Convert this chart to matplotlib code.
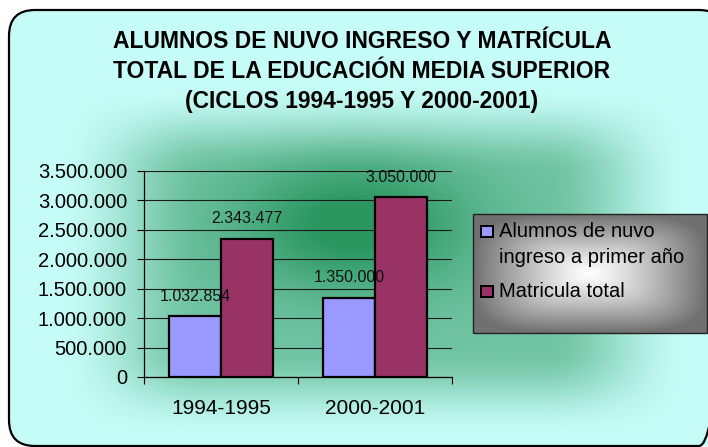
import numpy as np
import matplotlib
matplotlib.use("Agg")
import matplotlib.pyplot as plt
from matplotlib.patches import FancyBboxPatch, Rectangle
from matplotlib.ticker import FuncFormatter, FixedLocator

plt.rcParams['font.family'] = ['Liberation Sans', 'DejaVu Sans']

# data
ciclos = ["1994-1995", "2000-2001"]
nuevo_ingreso = [1032854, 1350000]
matricula_total = [2343477, 3050000]
series_names = ["Alumnos de nuvo\ningreso a primer año", "Matricula total"]
series_colors = ["#9999FF", "#993366"]
title_lines = ["ALUMNOS DE NUVO INGRESO Y MATRÍCULA",
               "TOTAL DE LA EDUCACIÓN MEDIA SUPERIOR",
               "(CICLOS 1994-1995 Y 2000-2001)"]

W, H = 708, 447
fig = plt.figure(figsize=(W / 100, H / 100), dpi=100)
fig.patch.set_facecolor("white")

# background axes in pixel coordinates
bg = fig.add_axes([0, 0, 1, 1])
bg.axis("off")


def smooth(v):
    v = np.clip(v, 0, 1)
    return v * v * (3 - 2 * v)


# chart area: soft green rectangle plus darker centre spot
x0, x1, y0, y1 = 9, 725, 10, 446
gx, gy = np.meshgrid(np.linspace(x0, x1, 500), np.linspace(y0, y1, 320))
sx = smooth((245 + 75 - np.abs(gx - 375)) / 150)
sy = smooth((132 + 45 - np.abs(gy - 262)) / 90)
spot = np.exp(-((gx - 355) / 120) ** 2 - ((gy - 225) / 68) ** 2)
t = np.clip(0.55 * sx * sy + 0.5 * spot, 0, 1)
edge = np.array([0.78, 0.99, 0.97])
center = np.array([0.17, 0.59, 0.38])
img = edge + (center - edge) * t[..., None]
im = bg.imshow(img, extent=(x0, x1, y1, y0), aspect="auto", zorder=1,
               interpolation="bilinear")
frame = FancyBboxPatch((x0, y0), x1 - x0, y1 - y0,
                       boxstyle="round,pad=0,rounding_size=26",
                       facecolor="none", edgecolor="black", linewidth=1.6, zorder=3)
bg.add_patch(frame)
im.set_clip_path(frame)

# legend box with grey gradient
lx0, lx1, ly0, ly1 = 473, 707, 214, 333
lgx, lgy = np.meshgrid(np.linspace(-1, 1, 240), np.linspace(-1, 1, 120))
lr = (np.abs(lgx) ** 4 + np.abs(lgy) ** 4) ** 0.25
lt = np.clip(lr, 0, 1) ** 1.2
limg = 1.0 + (0.44 - 1.0) * lt
bg.imshow(np.dstack([limg, limg, limg]), extent=(lx0, lx1, ly1, ly0),
          aspect="auto", zorder=4, interpolation="bilinear")
bg.set_xlim(0, W)
bg.set_ylim(H, 0)

# title
for yb, line in zip([48, 78, 108], title_lines):
    bg.text(362, yb, line, ha="center", va="baseline", fontsize=16.5,
            fontweight="bold", color="black", zorder=4)

bg.add_patch(Rectangle((lx0, ly0), lx1 - lx0, ly1 - ly0, facecolor="none",
                       edgecolor="#222222", linewidth=1.0, zorder=5))
for yb, i in [(237, 0), (297, 1)]:
    bg.add_patch(Rectangle((481, yb - 11.5), 12, 11.5, facecolor=series_colors[i],
                           edgecolor="black", linewidth=1.4, zorder=6))
bg.text(499, 237, "Alumnos de nuvo", fontsize=14.5, va="baseline", zorder=6)
bg.text(499, 263, "ingreso a primer año", fontsize=14.5, va="baseline", zorder=6)
bg.text(499, 297, series_names[1], fontsize=14.5, va="baseline", zorder=6)

# main plot
ax = fig.add_axes([144 / W, (H - 377) / H, (452 - 144) / W, (377 - 171) / H])
ax.patch.set_alpha(0)
x = np.arange(len(ciclos))
bw = 0.3377
b1 = ax.bar(x - bw / 2, nuevo_ingreso, bw, color=series_colors[0],
            edgecolor="black", linewidth=1.6, zorder=3)
b2 = ax.bar(x + bw / 2, matricula_total, bw, color=series_colors[1],
            edgecolor="black", linewidth=1.6, zorder=3)

fmt = lambda v: f"{int(v):,}".replace(",", ".")
for bars, vals in [(b1, nuevo_ingreso), (b2, matricula_total)]:
    for rect, v in zip(bars, vals):
        ax.annotate(fmt(v), (rect.get_x() + rect.get_width() / 2, v),
                    xytext=(0, 14.5), textcoords="offset points",
                    ha="center", va="center", fontsize=11.5, color="#111111",
                    zorder=5)

ax.set_xlim(-0.5, 1.5)
ax.set_ylim(0, 3500000)
ax.yaxis.set_major_locator(FixedLocator(np.arange(0, 3500001, 500000)))
ax.yaxis.set_major_formatter(FuncFormatter(lambda v, p: fmt(v)))
ax.grid(axis="y", color="#1a1a1a", linewidth=0.8, zorder=1)
ax.set_axisbelow(True)

ax.xaxis.set_major_locator(FixedLocator([-0.5, 0.5, 1.5]))
ax.xaxis.set_major_formatter(FuncFormatter(lambda v, p: ""))
ax.xaxis.set_minor_locator(FixedLocator(x))
ax.set_xticklabels(ciclos, minor=True)
ax.tick_params(axis="x", which="minor", length=0, pad=16, labelsize=15)
ax.tick_params(axis="x", which="major", length=5, width=0.8, direction="out")
ax.tick_params(axis="y", length=5, width=0.8, direction="out", pad=7.2,
               labelsize=14.5)

for s in ["top", "right"]:
    ax.spines[s].set_visible(False)
for s in ["left", "bottom"]:
    ax.spines[s].set_color("black")
    ax.spines[s].set_linewidth(0.9)

fig.savefig("out.png", dpi=100, facecolor="white")
